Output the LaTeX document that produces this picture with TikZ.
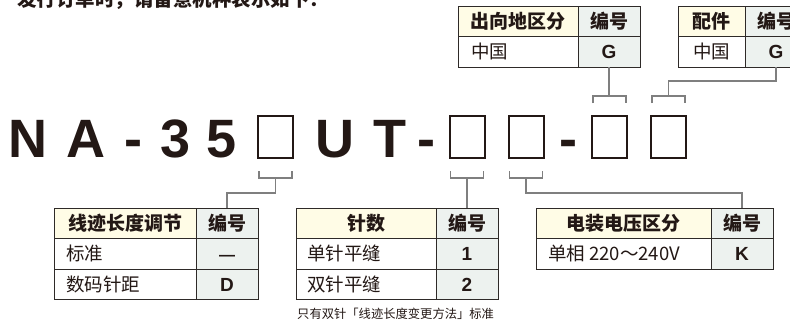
\documentclass[tikz,border=0pt]{standalone}
\usepackage{fontspec}
\newfontfamily\cjk{Noto Sans CJK SC}
\newfontfamily\lat{Liberation Sans}
\usetikzlibrary{calc}
\definecolor{ink}{HTML}{231815}
\definecolor{hdrY}{HTML}{FFFCE6}
\definecolor{codeG}{HTML}{EDF2EF}
\definecolor{conC}{HTML}{7F7F7F}
\definecolor{bordC}{HTML}{2E2A28}
\tikzset{
 cellbox/.style={draw=bordC, line width=0.9pt, inner sep=0pt, outer sep=0pt},
 hdtext/.style={font=\cjk\bfseries\fontsize{19}{20}\selectfont, text=ink, anchor=base, inner sep=0pt},
 dtext/.style={font=\cjk\fontsize{18.5}{20}\selectfont, text=ink, anchor=base west, inner sep=0pt},
 dctext/.style={font=\cjk\fontsize{18.5}{20}\selectfont, text=ink, anchor=base, inner sep=0pt},
 ctext/.style={font=\lat\bfseries\fontsize{19}{20}\selectfont, text=ink, anchor=base, inner sep=0pt},
 bigch/.style={font=\lat\bfseries\fontsize{54}{56}\selectfont, text=ink, anchor=base, inner sep=0pt},
 codebox/.style={draw=ink, line width=2pt, minimum width=35pt, minimum height=42pt, inner sep=0pt},
 conn/.style={draw=conC, line width=1.5pt},
}
\newcommand\mkcell[6]{\node[cellbox, fill=#6, minimum width={(#4-#2)*1pt}, minimum height={(#5-#3)*1pt}] (#1) at ({(#2+#4)/2},{(#3+#5)/2}) {};}
\begin{document}
\begin{tikzpicture}[x=1pt,y=-1pt]
\useasboundingbox (0,0) rectangle (790,325);
\clip (0,0) rectangle (790,325);
\fill[white] (0,0) rectangle (790,325);

% title (cut off at the top)
\node[font=\cjk\bfseries\fontsize{19.5}{20}\selectfont, text=ink, anchor=base west, inner sep=0pt] (title) at (17,6.5) {发行订单时，请留意机种表示如下：};

% top table 1
\mkcell{qa}{458}{6}{578}{36}{hdrY}
\mkcell{qb}{578}{6}{640}{36}{codeG}
\mkcell{qc}{458}{36}{578}{67}{white}
\mkcell{qd}{578}{36}{640}{67}{codeG}
\node[hdtext] (qat) at ($(qa.center)+(0,7)$) {出向地区分};
\node[hdtext] (qbt) at ($(qb.center)+(0,7)$) {编号};
\node[dtext] (qct) at ($(qc.west)+(13,7)$) {中国};
\node[ctext] (qdt) at ($(qd.center)+(0,7)$) {G};

% top table 2
\mkcell{ra}{678}{6}{745}{36}{hdrY}
\mkcell{rb}{745}{6}{807}{36}{codeG}
\mkcell{rc}{678}{36}{745}{67}{white}
\mkcell{rd}{745}{36}{807}{67}{codeG}
\node[hdtext] (rat) at ($(ra.center)+(0,7)$) {配件};
\node[hdtext] (rbt) at ($(rb.center)+(0,7)$) {编号};
\node[dctext] (rct) at ($(rc.center)+(0,7)$) {中国};
\node[ctext] (rdt) at ($(rd.center)+(0,7)$) {G};

% model code
\node[bigch] (cN) at (28,157.5) {N};
\node[bigch] (cA) at (86,157.5) {A};
\node[bigch] (cH1) at (133,157.5) {-};
\node[bigch] (c3) at (176,157.5) {3};
\node[bigch] (c5) at (222,157.5) {5};
\node[codebox] (bx1) at (275.5,137) {};
\node[bigch] (cU) at (335,157.5) {U};
\node[bigch] (cT) at (390,157.5) {T};
\node[bigch] (cH2) at (426,157.5) {-};
\node[codebox] (bx2) at (467,137) {};
\node[codebox] (bx3) at (526,137) {};
\node[bigch] (cH3) at (568,157.5) {-};
\node[codebox] (bx4) at (609.5,137) {};
\node[codebox] (bx5) at (668.5,137) {};

% top brackets
\coordinate (bt4) at ($(bx4.north)+(0,-19)$);
\coordinate (bt5) at ($(bx5.north)+(0,-19)$);
\draw[conn] ($(bt4)+(-16.5,7)$) -- ++(0,-7) -- ++(33,0) -- ++(0,7);
\draw[conn] ($(bt5)+(-16.5,7)$) -- ++(0,-7) -- ++(33,0) -- ++(0,7);
\draw[conn] (qd.south) -- (qd.south |- bt4);
\draw[conn] (rd.south) -- ++(0,14) -| (bt5);

% bottom brackets
\coordinate (bb1) at ($(bx1.south)+(0,19)$);
\coordinate (bb2) at ($(bx2.south)+(0,19)$);
\coordinate (bb3) at ($(bx3.south)+(0,19)$);
\draw[conn] ($(bb1)+(-16.5,-7)$) -- ++(0,7) -- ++(33,0) -- ++(0,-7);
\draw[conn] ($(bb2)+(-16.5,-7)$) -- ++(0,7) -- ++(33,0) -- ++(0,-7);
\draw[conn] ($(bb3)+(-16.5,-7)$) -- ++(0,7) -- ++(33,0) -- ++(0,-7);

% bottom table 1
\mkcell{pa}{54}{208}{196}{238}{hdrY}
\mkcell{pb}{196}{208}{258}{238}{codeG}
\mkcell{pc}{54}{238}{196}{269}{white}
\mkcell{pd}{196}{238}{258}{269}{codeG}
\mkcell{pe}{54}{269}{196}{299}{white}
\mkcell{pf}{196}{269}{258}{299}{codeG}
\node[hdtext] (pat) at ($(pa.center)+(0,7)$) {线迹长度调节};
\node[hdtext] (pbt) at ($(pb.center)+(0,7)$) {编号};
\node[dtext] (pct) at ($(pc.west)+(12,7)$) {标准};
\node[font=\lat\bfseries\fontsize{16}{18}\selectfont, text=ink, anchor=base, inner sep=0pt] (pdt) at ($(pd.center)+(0,7)$) {—};
\node[dtext] (pet) at ($(pe.west)+(12,7)$) {数码针距};
\node[ctext] (pft) at ($(pf.center)+(0,7)$) {D};

% bottom table 2
\mkcell{sa}{296}{208}{436}{238}{hdrY}
\mkcell{sb}{436}{208}{498}{238}{codeG}
\mkcell{sc}{296}{238}{436}{269}{white}
\mkcell{sd}{436}{238}{498}{269}{codeG}
\mkcell{se}{296}{269}{436}{299}{white}
\mkcell{sf}{436}{269}{498}{299}{codeG}
\node[hdtext] (sat) at ($(sa.center)+(0,7)$) {针数};
\node[hdtext] (sbt) at ($(sb.center)+(0,7)$) {编号};
\node[dtext] (sct) at ($(sc.west)+(11,7)$) {单针平缝};
\node[ctext] (sdt) at ($(sd.center)+(0,7)$) {1};
\node[dtext] (set) at ($(se.west)+(11,7)$) {双针平缝};
\node[ctext] (sft) at ($(sf.center)+(0,7)$) {2};
\node[font=\cjk\fontsize{12.3}{14}\selectfont, text=ink, anchor=base west, inner sep=0pt] (note) at (297,318.5) {只有双针「线迹长度变更方法」标准};

% bottom table 3
\mkcell{ua}{536}{208}{711}{238}{hdrY}
\mkcell{ub}{711}{208}{773}{238}{codeG}
\mkcell{uc}{536}{238}{711}{269}{white}
\mkcell{ud}{711}{238}{773}{269}{codeG}
\node[hdtext] (uat) at ($(ua.center)+(0,7)$) {电装电压区分};
\node[hdtext] (ubt) at ($(ub.center)+(0,7)$) {编号};
\node[dtext] (uct) at ($(uc.west)+(12,7)$) {单相 220～240V};
\node[ctext] (udt) at ($(ud.center)+(0,7)$) {K};

% connectors to bottom tables
\draw[conn] (bb1) -- ++(0,15) -| (pb.north);
\draw[conn] (bb2) -- (bb2 |- sb.north);
\draw[conn] (bb3) -- ++(0,15) -| (ub.north);
\end{tikzpicture}
\end{document}
